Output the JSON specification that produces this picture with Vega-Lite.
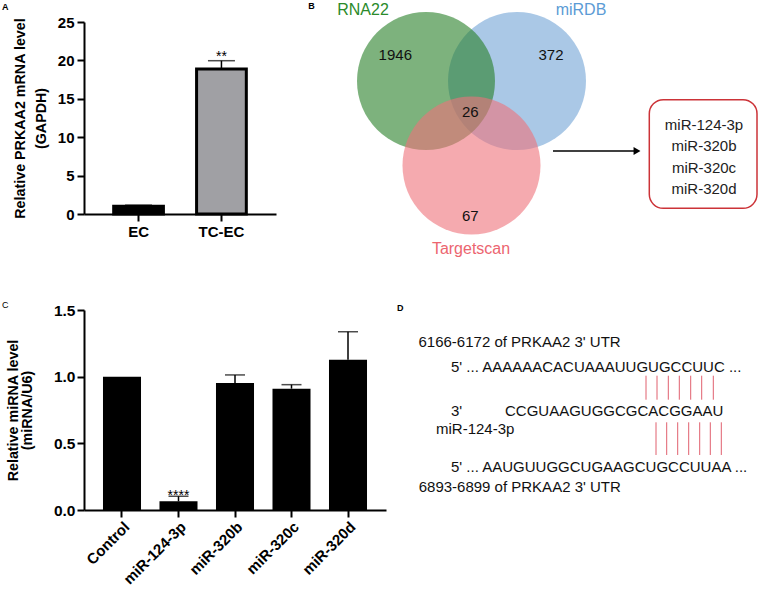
{
  "$schema": "https://vega.github.io/schema/vega-lite/v6.json",
  "padding": {"left": 1, "top": 2, "right": 0, "bottom": 0},
  "background": "white",
  "columns": 2,
  "align": "none",
  "bounds": "flush",
  "spacing": {"row": 96, "column": 15},
  "config": {
    "font": "Liberation Sans",
    "view": {"stroke": null},
    "axis": {"grid": false, "domainColor": "black", "domainWidth": 2, "tickColor": "black", "tickWidth": 2, "tickSize": 7, "labelColor": "black", "titleColor": "black", "labelFont": "Liberation Sans", "titleFont": "Liberation Sans", "labelFontWeight": "bold", "titleFontWeight": "bold"},
    "text": {"font": "Liberation Sans"}
  },
  "concat": [
    {
      "width": 192, "height": 192,
      "data": {"values": [
        {"group": "EC", "value": 1.0, "upper": 1.15},
        {"group": "TC-EC", "value": 18.88, "upper": 19.96, "sig": "**"}
      ]},
      "encoding": {
        "x": {"field": "group", "type": "nominal", "sort": null, "scale": {"paddingInner": 0.4, "paddingOuter": 0.358},
              "axis": {"title": null, "labelAngle": 0, "labelFontSize": 15, "labelPadding": 3}},
        "y": {"field": "value", "type": "quantitative", "scale": {"domain": [0, 25], "nice": false},
              "axis": {"values": [0, 5, 10, 15, 20, 25], "title": ["Relative PRKAA2 mRNA level", "(GAPDH)"], "titleFontSize": 14.3, "titleLineHeight": 21, "titlePadding": 9, "labelFontSize": 15, "labelPadding": 3}}
      },
      "layer": [
        {"mark": {"type": "bar", "stroke": "black", "strokeWidth": 3},
         "encoding": {"fill": {"field": "group", "type": "nominal", "scale": {"domain": ["EC", "TC-EC"], "range": ["black", "#a0a0a4"]}, "legend": null}}},
        {"mark": {"type": "rule", "color": "black", "strokeWidth": 1.5}, "encoding": {"y2": {"field": "upper"}}},
        {"mark": {"type": "tick", "color": "black", "thickness": 1.5, "size": 27}, "encoding": {"y": {"field": "upper", "type": "quantitative"}}},
        {"transform": [{"filter": "datum.sig != null"}],
         "mark": {"type": "text", "fontSize": 14, "baseline": "alphabetic", "color": "black"},
         "encoding": {"y": {"field": "upper", "type": "quantitative"}, "text": {"field": "sig"}}}
      ]
    },
    {
      "width": 356, "height": 192,
      "resolve": {"scale": {"color": "independent"}},
      "encoding": {
        "x": {"field": "x", "type": "quantitative", "scale": {"domain": [0, 356], "nice": false, "zero": false}, "axis": null},
        "y": {"field": "y", "type": "quantitative", "scale": {"domain": [0, 192], "nice": false, "zero": false}, "axis": null}
      },
      "layer": [
        {"data": {"values": [
          {"set": "miRDB", "x": 116, "y": 133},
          {"set": "RNA22", "x": 25, "y": 133},
          {"set": "Targetscan", "x": 70.5, "y": 48.5}
         ]},
         "mark": {"type": "point", "shape": "circle", "filled": true, "size": 19044, "opacity": 0.6, "strokeWidth": 0},
         "encoding": {"color": {"field": "set", "type": "nominal", "scale": {"domain": ["RNA22", "miRDB", "Targetscan"], "range": ["#267f26", "#71a3d5", "#ee7179"]}, "legend": null}}},
        {"data": {"values": [
          {"set": "RNA22", "x": -38, "y": 204},
          {"set": "miRDB", "x": 180, "y": 204},
          {"set": "Targetscan", "x": 70, "y": -35}
         ]},
         "mark": {"type": "text", "fontSize": 16, "baseline": "middle"},
         "encoding": {"text": {"field": "set"}, "color": {"field": "set", "type": "nominal", "scale": {"domain": ["RNA22", "miRDB", "Targetscan"], "range": ["#2a8a2a", "#5b9bd5", "#ec6570"]}, "legend": null}}},
        {"data": {"values": [
          {"n": "1946", "x": -5.7, "y": 159.3},
          {"n": "372", "x": 150, "y": 159.3},
          {"n": "26", "x": 69.3, "y": 102},
          {"n": "67", "x": 69.3, "y": -2.3}
         ]},
         "mark": {"type": "text", "fontSize": 15, "baseline": "middle", "color": "#111111"},
         "encoding": {"text": {"field": "n"}}},
        {"data": {"values": [{"x": 152, "x2": 233, "y": 63}]},
         "mark": {"type": "rule", "color": "black", "strokeWidth": 1.5},
         "encoding": {"x2": {"field": "x2"}}},
        {"data": {"values": [{"x": 236, "y": 63}]},
         "mark": {"type": "point", "shape": "triangle-right", "filled": true, "size": 64, "color": "black", "opacity": 1}},
        {"data": {"values": [{"x": 248.3, "x2": 356, "y": 114.3, "y2": 5.7}]},
         "mark": {"type": "rect", "fill": "white", "stroke": "#cc3338", "strokeWidth": 1.5, "cornerRadius": 14},
         "encoding": {"x2": {"field": "x2"}, "y2": {"field": "y2"}}},
        {"data": {"values": [
          {"m": "miR-124-3p", "x": 303, "y": 89},
          {"m": "miR-320b", "x": 303, "y": 67.7},
          {"m": "miR-320c", "x": 303, "y": 46.3},
          {"m": "miR-320d", "x": 303, "y": 25}
         ]},
         "mark": {"type": "text", "fontSize": 15, "baseline": "middle", "color": "#222222"},
         "encoding": {"text": {"field": "m"}}},
        {"data": {"values": [
          {"t": "A", "x": -395.8, "y": 207.5},
          {"t": "B", "x": -89.5, "y": 208}
         ]},
         "mark": {"type": "text", "fontSize": 9, "fontWeight": "bold", "baseline": "middle", "color": "black"},
         "encoding": {"text": {"field": "t"}}}
      ]
    },
    {
      "width": 302, "height": 200,
      "data": {"values": [
        {"g": "Control", "value": 1.0},
        {"g": "miR-124-3p", "value": 0.065, "upper": 0.103, "sig": "****"},
        {"g": "miR-320b", "value": 0.953, "upper": 1.013},
        {"g": "miR-320c", "value": 0.91, "upper": 0.94},
        {"g": "miR-320d", "value": 1.127, "upper": 1.337}
      ]},
      "encoding": {
        "x": {"field": "g", "type": "nominal", "sort": null, "scale": {"paddingInner": 0.327, "paddingOuter": 0.336},
              "axis": {"title": null, "labelAngle": -45, "labelFontSize": 15, "labelPadding": 2}},
        "y": {"field": "value", "type": "quantitative", "scale": {"domain": [0, 1.5], "nice": false},
              "axis": {"values": [0, 0.5, 1, 1.5], "format": ".1f", "title": ["Relative miRNA level", "(miRNA/U6)"], "titleFontSize": 14.3, "titleLineHeight": 14, "titlePadding": 19, "labelFontSize": 15.5, "labelPadding": 2}}
      },
      "layer": [
        {"mark": {"type": "bar", "color": "black"}},
        {"transform": [{"filter": "datum.upper != null"}],
         "mark": {"type": "rule", "color": "black", "strokeWidth": 1.5}, "encoding": {"y2": {"field": "upper"}}},
        {"transform": [{"filter": "datum.upper != null"}],
         "mark": {"type": "tick", "color": "black", "thickness": 1.5, "size": 20}, "encoding": {"y": {"field": "upper", "type": "quantitative"}}},
        {"transform": [{"filter": "datum.sig != null"}],
         "mark": {"type": "text", "fontSize": 14, "baseline": "middle", "color": "black"},
         "encoding": {"y": {"field": "upper", "type": "quantitative"}, "text": {"field": "sig"}}}
      ]
    },
    {
      "width": 355, "height": 200,
      "encoding": {
        "x": {"field": "x", "type": "quantitative", "scale": {"domain": [0, 355], "nice": false, "zero": false}, "axis": null},
        "y": {"field": "y", "type": "quantitative", "scale": {"domain": [0, 200], "nice": false, "zero": false}, "axis": null}
      },
      "layer": [
        {"data": {"values": [
          {"pair": "upper", "x": 245, "y": 134.3, "y2": 110.3},
          {"pair": "upper", "x": 256, "y": 134.3, "y2": 110.3},
          {"pair": "upper", "x": 267.3, "y": 134.3, "y2": 110.3},
          {"pair": "upper", "x": 278.3, "y": 134.3, "y2": 110.3},
          {"pair": "upper", "x": 289.7, "y": 134.3, "y2": 110.3},
          {"pair": "upper", "x": 300.7, "y": 134.3, "y2": 110.3},
          {"pair": "upper", "x": 312.3, "y": 134.3, "y2": 110.3},
          {"pair": "lower", "x": 255, "y": 87.7, "y2": 55},
          {"pair": "lower", "x": 265.7, "y": 87.7, "y2": 55},
          {"pair": "lower", "x": 276.7, "y": 87.7, "y2": 55},
          {"pair": "lower", "x": 287.7, "y": 87.7, "y2": 55},
          {"pair": "lower", "x": 298.7, "y": 87.7, "y2": 55},
          {"pair": "lower", "x": 309.3, "y": 87.7, "y2": 55},
          {"pair": "lower", "x": 320.3, "y": 87.7, "y2": 55}
         ]},
         "mark": {"type": "rule", "color": "#e0606e", "strokeWidth": 1},
         "encoding": {"y2": {"field": "y2"}}},
        {"data": {"values": [
          {"t": "6166-6172 of PRKAA2 3' UTR", "x": 17.5, "y": 168},
          {"t": "5' ... AAAAAACACUAAAUUGUGCCUUC ...", "x": 50, "y": 143},
          {"t": "3'", "x": 50, "y": 99.3},
          {"t": "CCGUAAGUGGCGCACGGAAU", "x": 104, "y": 99.3},
          {"t": "miR-124-3p", "x": 35, "y": 81.5},
          {"t": "5' ... AAUGUUGGCUGAAGCUGCCUUAA ...", "x": 50, "y": 43.5},
          {"t": "6893-6899 of PRKAA2 3' UTR", "x": 17.7, "y": 22.7}
         ]},
         "mark": {"type": "text", "fontSize": 15, "align": "left", "baseline": "middle", "color": "#111111"},
         "encoding": {"text": {"field": "t"}}},
        {"data": {"values": [{"t": "C", "x": -395.8, "y": 205}]},
         "mark": {"type": "text", "fontSize": 9, "baseline": "middle", "color": "black"},
         "encoding": {"text": {"field": "t"}}},
        {"data": {"values": [{"t": "D", "x": -0.8, "y": 202.2}]},
         "mark": {"type": "text", "fontSize": 9, "fontWeight": "bold", "baseline": "middle", "color": "black"},
         "encoding": {"text": {"field": "t"}}}
      ]
    }
  ]
}
